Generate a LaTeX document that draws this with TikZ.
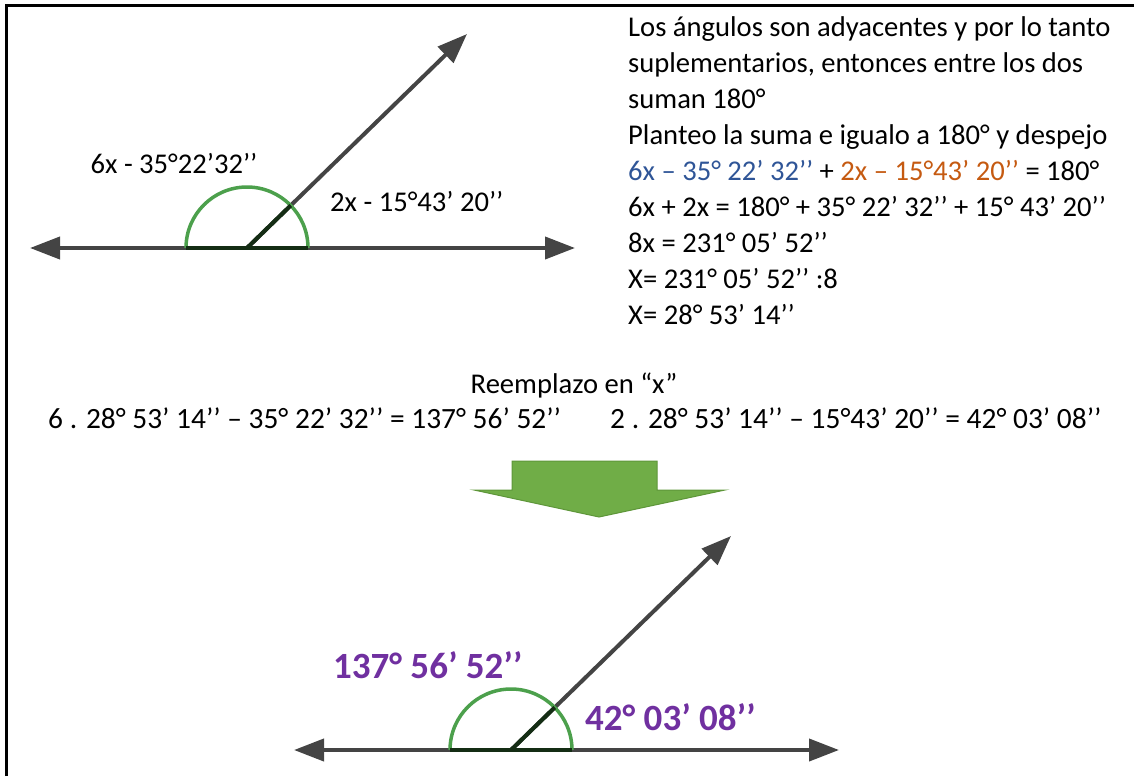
\documentclass[tikz,border=0pt]{standalone}
\usepackage{fontspec}
\setmainfont{Carlito}
\usepackage{tikz}
\usetikzlibrary{arrows.meta, positioning, calc}
\definecolor{raygray}{RGB}{68,68,68}
\definecolor{arcgreen}{RGB}{76,160,76}
\definecolor{innerdark}{RGB}{20,45,20}
\definecolor{eqblue}{RGB}{47,85,151}
\definecolor{eqorange}{RGB}{197,90,17}
\definecolor{respurple}{RGB}{112,48,160}
\definecolor{bigarrow}{RGB}{112,173,71}
\definecolor{bigarrowedge}{RGB}{94,150,58}
\tikzset{
  ray/.style={line width=4pt, color=raygray,
    {Triangle[length=30pt,width=22pt]}-{Triangle[length=30pt,width=22pt]}},
  oneray/.style={line width=4pt, color=raygray, -{Triangle[length=30pt,width=22pt]}},
  inner/.style={line width=4pt, color=innerdark},
  arcline/.style={line width=3.5pt, color=arcgreen},
  txt/.style={font=\fontsize{28.6}{36}\selectfont, inner sep=0pt},
  midtxt/.style={font=\fontsize{29.4}{36}\selectfont, inner sep=0pt},
  restxt/.style={font=\fontsize{37}{44}\selectfont\bfseries, inner sep=0pt, text=respurple}
}

\begin{document}
\begin{tikzpicture}[x=1pt, y=-1pt]
  \useasboundingbox (0,0) rectangle (1134,776);
  % Frame (top and left only)
  \draw[line width=3pt, black] (6,776) -- (6,6) -- (1134,6);

  % Top angle
  \coordinate (v1) at (247,248);
  \coordinate (l1) at (30,248);
  \coordinate (r1) at (575,248);
  \coordinate (t1) at (467,34);
  \draw[ray] (l1) -- (r1);
  \draw[oneray] (v1) -- (t1);
  \draw[arcline] ([xshift=61pt]v1) arc[start angle=0, end angle=180, radius=61pt];
  \draw[inner] ([xshift=-61pt]v1) -- ([xshift=61pt]v1);
  \draw[inner] (v1) -- ($(v1)!61pt!(t1)$);
  \node[txt, anchor=base] (angA) at (174,173) {6x - 35°22’32’’};
  \node[txt, anchor=base west] (angB) at (330,211) {2x - 15°43’ 20’’};

  % Working (base = last line)
  \node[txt, anchor=base west, align=left] (steps) at (628,324) {%
    Los ángulos son adyacentes y por lo tanto\\
    suplementarios, entonces entre los dos\\
    suman 180°\\
    Planteo la suma e igualo a 180° y despejo\\
    \textcolor{eqblue}{6x – 35° 22’ 32’’} + \textcolor{eqorange}{2x – 15°43’ 20’’} = 180°\\
    6x + 2x = 180° + 35° 22’ 32’’ + 15° 43’ 20’’\\
    8x = 231° 05’ 52’’\\
    X= 231° 05’ 52’’ :8\\
    X= 28° 53’ 14’’};

  % Replacing x
  \node[txt, anchor=base] (repl) at (574,393) {Reemplazo en “x”};
  \node[midtxt, anchor=base west] (subA) at (48,428) {6 . 28° 53’ 14’’ – 35° 22’ 32’’ = 137° 56’ 52’’};
  \node[midtxt, anchor=base west] (subB) at (610,428) {2 . 28° 53’ 14’’ – 15°43’ 20’’ = 42° 03’ 08’’};

  % Big down arrow
  \draw[fill=bigarrow, draw=bigarrowedge, line width=1pt]
    (512,461) -- (657,461) -- (657,490) -- (725,490) -- (599,517)
    -- (474,490) -- (512,490) -- cycle;

  % Bottom angle
  \coordinate (v2) at (511,750);
  \coordinate (l2) at (294,750);
  \coordinate (r2) at (839,750);
  \coordinate (t2) at (731,536);
  \draw[ray] (l2) -- (r2);
  \draw[oneray] (v2) -- (t2);
  \draw[arcline] ([xshift=61pt]v2) arc[start angle=0, end angle=180, radius=61pt];
  \draw[inner] ([xshift=-61pt]v2) -- ([xshift=61pt]v2);
  \draw[inner] (v2) -- ($(v2)!61pt!(t2)$);
  \node[restxt, anchor=base west] (resA) at (333,678) {137° 56’ 52’’};
  \node[restxt, anchor=base west] (resB) at (585,730) {42° 03’ 08’’};
\end{tikzpicture}
\end{document}
